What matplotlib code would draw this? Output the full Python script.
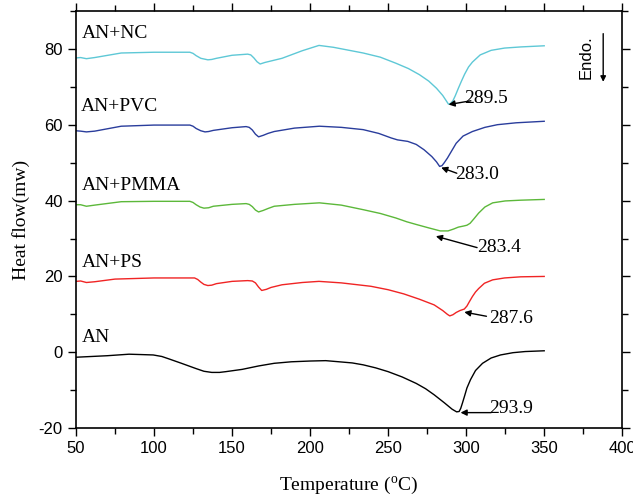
import matplotlib
matplotlib.use("Agg")
import matplotlib.pyplot as plt
from matplotlib.ticker import MultipleLocator

plt.rcParams['mathtext.fontset'] = 'custom'
plt.rcParams['mathtext.rm'] = 'Liberation Serif'
plt.rcParams['axes.unicode_minus'] = False

# ---- data ----
T_AN = [50, 70, 84, 92, 99.5, 105, 110, 117.6, 127, 132, 137, 142, 146, 156.5, 167, 177, 188, 200, 210, 218.6, 227, 234, 242, 250, 259, 268, 274, 279.5, 286, 291, 293.9, 295.5, 296.5, 297.6, 299, 300.5, 302.8, 306, 310.5, 316, 322, 330, 337.8, 350]
H_AN = [-1.3, -0.9, -0.5, -0.6, -0.7, -1.1, -1.8, -2.9, -4.3, -5.0, -5.3, -5.3, -5.1, -4.5, -3.6, -2.9, -2.5, -2.3, -2.2, -2.5, -2.8, -3.3, -4.1, -5.1, -6.5, -8.2, -9.6, -11.2, -13.3, -15.0, -15.7, -15.6, -14.8, -13.4, -11.5, -9.4, -7.2, -4.8, -2.9, -1.5, -0.7, -0.1, 0.2, 0.4]

T_PS = [50, 53, 56.7, 62, 75, 100, 126, 128, 130, 132, 134.5, 137, 140, 150, 160, 163, 165, 167, 169, 172, 175, 182, 195, 205.7, 220, 239, 250, 260, 270, 279.5, 285, 288, 289.5, 291.5, 293.6, 296, 298.8, 300.5, 302, 304, 306, 308, 311.7, 317, 324.6, 335, 350]
H_PS = [18.7, 18.8, 18.4, 18.6, 19.3, 19.6, 19.6, 19.2, 18.5, 17.9, 17.6, 17.7, 18.1, 18.7, 18.9, 18.8, 18.3, 17.2, 16.3, 16.6, 17.1, 17.8, 18.4, 18.7, 18.3, 17.4, 16.5, 15.4, 14.0, 12.5, 11.0, 10.0, 9.6, 9.9, 10.5, 11.0, 11.4, 12.2, 13.3, 14.7, 15.9, 16.8, 18.2, 19.1, 19.6, 19.9, 20.0]

T_PMMA = [50, 53, 56.7, 62, 79, 100, 123, 125, 127, 129.5, 132, 135, 138, 150, 159, 161, 163, 165, 167, 170, 173, 177, 190, 206, 220, 234, 245, 255, 262, 268, 276, 283.4, 288.4, 292, 295, 298.5, 300.5, 302.5, 305, 308, 312, 317, 325, 335, 350]
H_PMMA = [38.9, 38.9, 38.5, 38.8, 39.7, 39.8, 39.8, 39.5, 38.9, 38.3, 38.0, 38.1, 38.5, 39.0, 39.2, 39.0, 38.4, 37.5, 37.0, 37.4, 37.9, 38.5, 39.0, 39.4, 38.8, 37.6, 36.6, 35.4, 34.4, 33.7, 32.8, 32.0, 32.0, 32.5, 33.0, 33.3, 33.5, 34.0, 35.2, 36.7, 38.3, 39.4, 39.9, 40.1, 40.3]

T_PVC = [50, 53, 56.7, 62, 79, 100, 123, 125, 127, 130, 132.7, 135, 138, 150, 159, 161, 163, 165, 167, 170, 173, 177, 190, 206, 220, 234, 244, 252, 256, 262.6, 268, 273, 278, 281, 283, 284.5, 286, 288, 290, 293.6, 298, 304, 312, 320, 332, 350]
H_PVC = [58.4, 58.3, 58.1, 58.3, 59.6, 59.9, 59.9, 59.6, 59.0, 58.4, 58.1, 58.2, 58.5, 59.2, 59.5, 59.3, 58.6, 57.5, 56.8, 57.2, 57.7, 58.2, 59.1, 59.6, 59.3, 58.7, 57.7, 56.5, 56.0, 55.6, 54.8, 53.4, 51.6, 50.2, 49.0, 49.2, 50.0, 51.2, 52.6, 55.1, 57.0, 58.2, 59.3, 60.0, 60.5, 60.9]

T_NC = [50, 53, 56.7, 62, 79, 100, 123, 125, 127, 130, 134.5, 137, 140, 150, 160, 162, 164, 166, 168, 171, 175, 182, 195, 205.7, 215, 234, 245, 255, 263, 270, 276, 281, 285, 288.7, 290, 291.5, 293, 295, 297, 299, 301.5, 304, 309, 316, 324.6, 335, 350]
H_NC = [77.6, 77.7, 77.4, 77.7, 78.9, 79.1, 79.1, 78.8, 78.2, 77.5, 77.1, 77.2, 77.5, 78.3, 78.6, 78.4, 77.6, 76.6, 76.0, 76.4, 76.8, 77.5, 79.5, 80.9, 80.4, 78.9, 77.8, 76.2, 74.8, 73.2, 71.5, 69.6, 67.7, 65.4, 65.6, 66.3, 67.6, 69.6, 71.5, 73.3, 75.2, 76.5, 78.4, 79.6, 80.2, 80.5, 80.8]

series_names = ["AN", "AN+PS", "AN+PMMA", "AN+PVC", "AN+NC"]
label_pos = [(54, 4.0), (54, 23.8), (54, 44.1), (53, 64.8), (54, 84.1)]
peak_labels = ["293.9", "287.6", "283.4", "283.0", "289.5"]
peak_text_pos = [(314.5, -14.7), (314.6, 9.0), (307, 27.7), (293, 47.0), (299, 67.0)]
peak_arrow_from = [(316, -15.9), (313, 9.5), (307, 27.6), (294, 47.2), (303, 66.3)]
peak_arrow_to = [(296.4, -15.9), (298.8, 10.6), (280.6, 30.6), (284, 48.7), (288.7, 65.3)]

colors = ["#000000", "#f02424", "#5cb83a", "#2a3d9c", "#5ec8d6"]

fig = plt.figure(figsize=(6.33, 4.95), dpi=100)
ax = fig.add_axes([0.120, 0.135, 0.863, 0.843])

data = [(T_AN, H_AN), (T_PS, H_PS), (T_PMMA, H_PMMA), (T_PVC, H_PVC), (T_NC, H_NC)]
for (t, h), c in zip(data, colors):
    ax.plot(t, h, color=c, lw=1.0)

serif = 'Liberation Serif'
for name, (x, y) in zip(series_names, label_pos):
    ax.text(x, y, name, fontsize=14, family=serif, va='center', ha='left')

for lab, tp, af, at in zip(peak_labels, peak_text_pos, peak_arrow_from, peak_arrow_to):
    ax.text(tp[0], tp[1], lab, fontsize=14, family=serif, va='center', ha='left')
    ax.annotate('', xy=at, xytext=af,
                arrowprops=dict(arrowstyle='-|>', color='k', lw=1.0,
                                mutation_scale=9, shrinkA=0, shrinkB=0))

# Endo marker
ax.text(377, 77.8, 'Endo.', rotation=90, fontsize=12, family='Liberation Sans',
        va='center', ha='center')
ax.annotate('', xy=(387.8, 71.3), xytext=(387.8, 84.0),
            arrowprops=dict(arrowstyle='-|>', color='k', lw=1.0,
                            mutation_scale=8, shrinkA=0, shrinkB=0))

ax.set_xlim(50, 400)
ax.set_ylim(-20, 90)
ax.xaxis.set_major_locator(MultipleLocator(50))
ax.xaxis.set_minor_locator(MultipleLocator(25))
ax.yaxis.set_major_locator(MultipleLocator(20))
ax.yaxis.set_minor_locator(MultipleLocator(10))
ax.tick_params(which='both', direction='out', top=True, right=True,
               labeltop=False, labelright=False, width=1.0)
ax.tick_params(which='major', length=6)
ax.tick_params(which='minor', length=4)
for lbl in ax.get_xticklabels() + ax.get_yticklabels():
    lbl.set_family('Liberation Sans')
    lbl.set_fontsize(12)
for sp in ax.spines.values():
    sp.set_linewidth(1.2)

ax.set_xlabel('Temperature ($^\\mathrm{o}$C)', fontsize=14, family=serif, labelpad=13)
ax.set_ylabel('Heat flow(mw)', fontsize=14, family=serif, labelpad=6)

fig.savefig('out.png', dpi=100)
